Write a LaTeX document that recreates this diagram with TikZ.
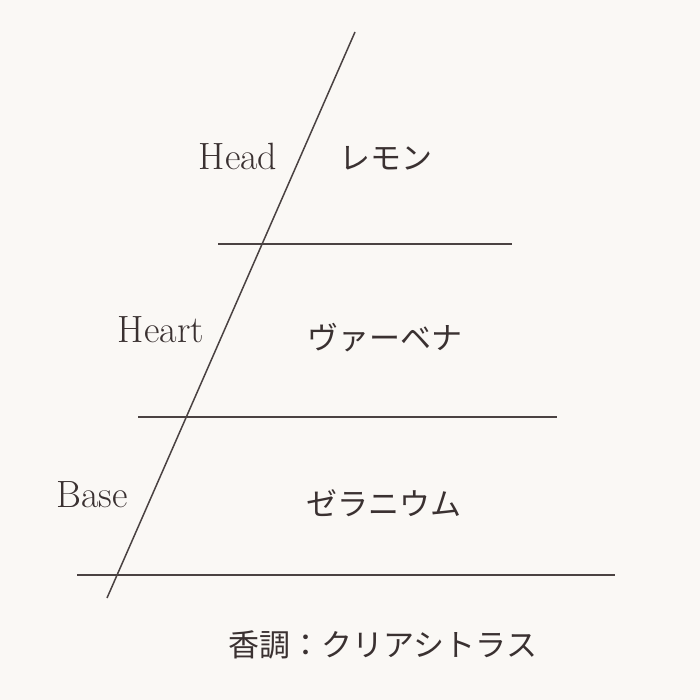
\documentclass[tikz,border=0pt]{standalone}
\usepackage{fontspec}
\newfontfamily\jpfont{Noto Sans CJK JP}
\usepackage{tikz}
\usetikzlibrary{calc}
\definecolor{paper}{HTML}{FAF8F5}
\definecolor{ink}{HTML}{3A3131}
\definecolor{rule}{HTML}{4A4242}

\begin{document}
\begin{tikzpicture}[x=1pt, y=-1pt]
\tikzstyle{layer}=[font=\fontsize{38}{38}\selectfont, text=ink, inner sep=0pt]
\tikzstyle{note}=[font=\jpfont\fontsize{31}{31}\selectfont, text=ink, inner sep=0pt]
\tikzstyle{accord}=[note, font=\jpfont\fontsize{31}{31}\selectfont]
\tikzstyle{sep}=[draw=rule, line width=1.5pt]

  \fill[paper] (0,0) rectangle (700,700);
  \useasboundingbox (0,0) rectangle (700,700);

  % pyramid edge
  \coordinate (apex) at (355,32);
  \coordinate (foot) at (107,598);
  \path (apex) edge [sep] (foot);

  % dividing lines
  \coordinate (headL)  at (218,244);
  \coordinate (headR)  at (512,244);
  \coordinate (heartL) at (138,417);
  \coordinate (heartR) at (557,417);
  \coordinate (baseL)  at (77,575);
  \coordinate (baseR)  at (615,575);
  \path (headL)  edge [sep] (headR);
  \path (heartL) edge [sep] (heartR);
  \path (baseL)  edge [sep] (baseR);

  % layer names
  \node[layer] (head)  at (238,156) {Head};
  \node[layer] (heart) at (161,330) {Heart};
  \node[layer] (base)  at (92,495)  {Base};

  % notes
  \node[note] (lemon)    at (386,158) {レモン};
  \node[note] (verbena)  at (385,338) {ヴァーベナ};
  \node[note] (geranium) at (384,503) {ゼラニウム};

  \node[accord] (citrus) at (383,645) {香調：クリアシトラス};

\end{tikzpicture}
\end{document}
